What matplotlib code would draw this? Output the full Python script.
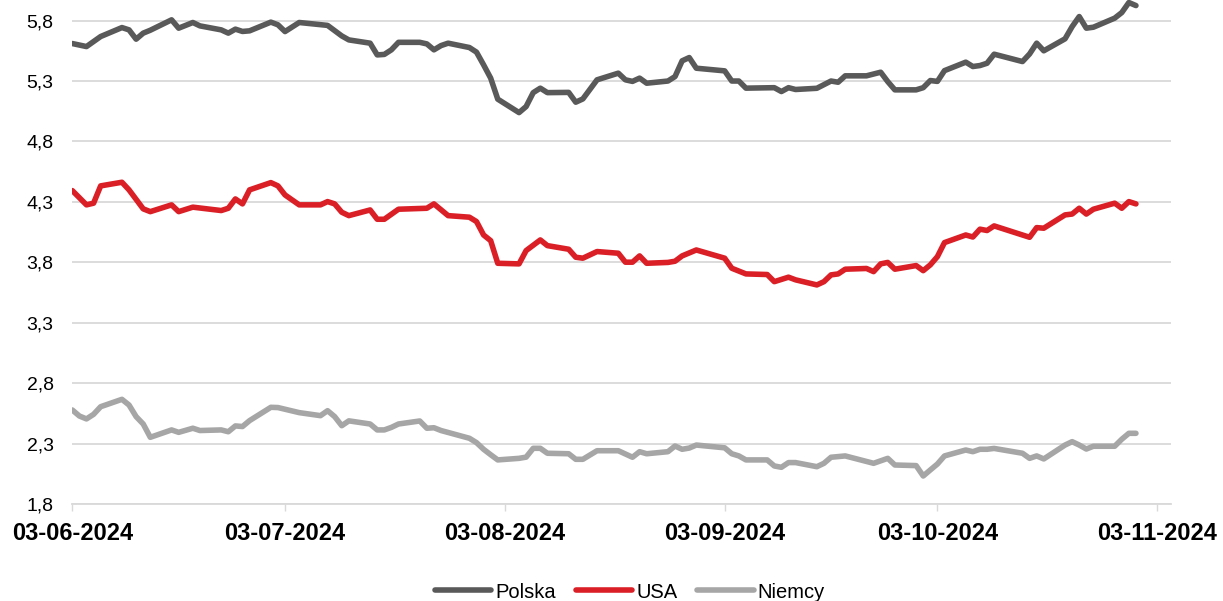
import matplotlib
matplotlib.use("Agg")
import matplotlib.pyplot as plt
import matplotlib.dates as mdates
import pandas as pd

plt.rcParams['font.family'] = ['Liberation Sans', 'DejaVu Sans']

polska_dates = ["2024-06-03","2024-06-05","2024-06-07","2024-06-10","2024-06-11","2024-06-12","2024-06-13","2024-06-14",
    "2024-06-17","2024-06-18","2024-06-20","2024-06-21","2024-06-24","2024-06-25","2024-06-26","2024-06-27","2024-06-28",
    "2024-07-01","2024-07-02","2024-07-03","2024-07-05","2024-07-09","2024-07-11","2024-07-12","2024-07-15","2024-07-16",
    "2024-07-17","2024-07-18","2024-07-19","2024-07-22","2024-07-23","2024-07-24","2024-07-25","2024-07-26","2024-07-29",
    "2024-07-30","2024-07-31","2024-08-01","2024-08-02","2024-08-05","2024-08-06","2024-08-07","2024-08-08","2024-08-09",
    "2024-08-12","2024-08-13","2024-08-14","2024-08-16","2024-08-19","2024-08-20","2024-08-21","2024-08-22","2024-08-23",
    "2024-08-26","2024-08-27","2024-08-28","2024-08-29","2024-08-30","2024-09-03","2024-09-04","2024-09-05","2024-09-06",
    "2024-09-10","2024-09-11","2024-09-12","2024-09-13","2024-09-16","2024-09-18","2024-09-19","2024-09-20","2024-09-23",
    "2024-09-25","2024-09-26","2024-09-27","2024-09-30","2024-10-01","2024-10-02","2024-10-03","2024-10-04","2024-10-07",
    "2024-10-08","2024-10-09","2024-10-10","2024-10-11","2024-10-15","2024-10-16","2024-10-17","2024-10-18","2024-10-21",
    "2024-10-22","2024-10-23","2024-10-24","2024-10-25","2024-10-28","2024-10-29","2024-10-30","2024-10-31"]
polska_vals = [5.61,5.585,5.668,5.742,5.723,5.646,5.696,5.72,
    5.806,5.737,5.784,5.756,5.723,5.696,5.729,5.71,5.715,
    5.787,5.765,5.709,5.784,5.76,5.673,5.64,5.613,5.516,
    5.52,5.558,5.62,5.62,5.607,5.558,5.593,5.613,5.577,
    5.539,5.434,5.324,5.15,5.039,5.089,5.204,5.241,5.204,
    5.206,5.125,5.152,5.31,5.365,5.31,5.297,5.324,5.282,
    5.30,5.337,5.467,5.494,5.406,5.384,5.30,5.30,5.241,
    5.245,5.213,5.245,5.23,5.24,5.30,5.29,5.343,5.343,
    5.373,5.295,5.227,5.227,5.245,5.304,5.297,5.386,5.456,
    5.42,5.428,5.447,5.522,5.461,5.524,5.613,5.55,5.649,
    5.75,5.833,5.737,5.745,5.82,5.866,5.949,5.924]

usa_dates = ["2024-06-03","2024-06-05","2024-06-06","2024-06-07","2024-06-10","2024-06-11","2024-06-13","2024-06-14",
    "2024-06-17","2024-06-18","2024-06-20","2024-06-24","2024-06-25","2024-06-26","2024-06-27","2024-06-28",
    "2024-07-01","2024-07-02","2024-07-03","2024-07-05","2024-07-08","2024-07-09","2024-07-10","2024-07-11","2024-07-12",
    "2024-07-15","2024-07-16","2024-07-17","2024-07-19","2024-07-23","2024-07-24","2024-07-26","2024-07-29","2024-07-30",
    "2024-07-31","2024-08-01","2024-08-02","2024-08-05","2024-08-06","2024-08-08","2024-08-09","2024-08-12","2024-08-13",
    "2024-08-14","2024-08-16","2024-08-19","2024-08-20","2024-08-21","2024-08-22","2024-08-23","2024-08-26","2024-08-27",
    "2024-08-28","2024-08-30","2024-09-03","2024-09-04","2024-09-06","2024-09-09","2024-09-10","2024-09-12","2024-09-13",
    "2024-09-16","2024-09-17","2024-09-18","2024-09-19","2024-09-20","2024-09-23","2024-09-24","2024-09-25","2024-09-26",
    "2024-09-27","2024-09-30","2024-10-01","2024-10-02","2024-10-03","2024-10-04","2024-10-07","2024-10-08","2024-10-09",
    "2024-10-10","2024-10-11","2024-10-16","2024-10-17","2024-10-18","2024-10-21","2024-10-22","2024-10-23","2024-10-24",
    "2024-10-25","2024-10-28","2024-10-29","2024-10-30","2024-10-31"]
usa_vals = [4.394,4.276,4.29,4.433,4.463,4.40,4.243,4.22,
    4.276,4.22,4.257,4.229,4.248,4.325,4.284,4.40,
    4.46,4.433,4.358,4.276,4.276,4.303,4.284,4.215,4.187,
    4.234,4.157,4.157,4.24,4.248,4.284,4.187,4.174,4.138,
    4.027,3.98,3.793,3.788,3.898,3.986,3.939,3.909,3.843,
    3.835,3.89,3.876,3.802,3.802,3.854,3.793,3.80,3.81,
    3.854,3.903,3.835,3.752,3.705,3.70,3.641,3.678,3.656,
    3.614,3.641,3.697,3.705,3.744,3.75,3.724,3.788,3.80,
    3.744,3.774,3.732,3.78,3.848,3.964,4.027,4.01,4.075,
    4.064,4.102,4.008,4.088,4.083,4.193,4.20,4.248,4.20,
    4.24,4.29,4.248,4.303,4.284]

niemcy_dates = ["2024-06-03","2024-06-04","2024-06-05","2024-06-06","2024-06-07","2024-06-10","2024-06-11","2024-06-12",
    "2024-06-13","2024-06-14","2024-06-17","2024-06-18","2024-06-20","2024-06-21","2024-06-24","2024-06-25","2024-06-26",
    "2024-06-27","2024-06-28","2024-07-01","2024-07-02","2024-07-05","2024-07-08","2024-07-09","2024-07-10","2024-07-11",
    "2024-07-12","2024-07-15","2024-07-16","2024-07-17","2024-07-18","2024-07-19","2024-07-22","2024-07-23","2024-07-24",
    "2024-07-25","2024-07-29","2024-07-30","2024-07-31","2024-08-01","2024-08-02","2024-08-05","2024-08-06","2024-08-07",
    "2024-08-08","2024-08-09","2024-08-12","2024-08-13","2024-08-14","2024-08-16","2024-08-19","2024-08-21","2024-08-22",
    "2024-08-23","2024-08-26","2024-08-27","2024-08-28","2024-08-29","2024-08-30","2024-09-03","2024-09-04","2024-09-05",
    "2024-09-06","2024-09-09","2024-09-10","2024-09-11","2024-09-12","2024-09-13","2024-09-16","2024-09-17","2024-09-18",
    "2024-09-20","2024-09-24","2024-09-26","2024-09-27","2024-09-30","2024-10-01","2024-10-02","2024-10-03","2024-10-04",
    "2024-10-07","2024-10-08","2024-10-09","2024-10-10","2024-10-11","2024-10-15","2024-10-16","2024-10-17","2024-10-18",
    "2024-10-21","2024-10-22","2024-10-23","2024-10-24","2024-10-25","2024-10-28","2024-10-29","2024-10-30","2024-10-31"]
niemcy_vals = [2.58,2.53,2.506,2.544,2.607,2.668,2.621,2.525,
    2.464,2.354,2.415,2.395,2.429,2.41,2.415,2.40,2.448,
    2.443,2.492,2.602,2.60,2.558,2.533,2.574,2.525,2.45,
    2.49,2.464,2.415,2.415,2.436,2.464,2.489,2.429,2.433,
    2.41,2.346,2.31,2.255,2.21,2.167,2.18,2.19,2.263,
    2.263,2.222,2.218,2.172,2.172,2.243,2.243,2.189,2.235,
    2.218,2.235,2.282,2.255,2.265,2.29,2.267,2.218,2.2,
    2.167,2.167,2.117,2.106,2.145,2.145,2.111,2.139,2.189,
    2.2,2.139,2.18,2.125,2.12,2.034,2.084,2.133,2.2,
    2.249,2.235,2.255,2.255,2.262,2.222,2.18,2.2,2.175,
    2.29,2.318,2.29,2.257,2.28,2.28,2.338,2.387,2.387]

series_names = ["Polska", "USA", "Niemcy"]
series_colors = ["#595959", "#da1f26", "#a6a6a6"]

x_tick_dates = ["2024-06-03","2024-07-03","2024-08-03","2024-09-03","2024-10-03","2024-11-03"]
x_tick_labels = ["03-06-2024","03-07-2024","03-08-2024","03-09-2024","03-10-2024","03-11-2024"]
y_ticks = [1.8, 2.3, 2.8, 3.3, 3.8, 4.3, 4.8, 5.3, 5.8]
y_tick_labels = ["1,8","2,3","2,8","3,3","3,8","4,3","4,8","5,3","5,8"]

fig = plt.figure(figsize=(12.23, 6.01), dpi=100)
ax = fig.add_axes([72.3/1223, 96.7/601, (1170.7-72.3)/1223, 504.3/601])

for name, color, d, v in zip(series_names, series_colors,
                             [polska_dates, usa_dates, niemcy_dates],
                             [polska_vals, usa_vals, niemcy_vals]):
    ax.plot(pd.to_datetime(d), v, color=color, lw=4.0, label=name,
            solid_joinstyle='round', solid_capstyle='round', zorder=3)

x0 = mdates.date2num(pd.Timestamp("2024-06-03"))
ax.set_xlim(x0, x0 + 154.9)
ax.set_ylim(1.8, 5.97)

ax.set_yticks(y_ticks)
ax.set_yticklabels(y_tick_labels, fontsize=14)
ax.set_xticks(pd.to_datetime(x_tick_dates))
ax.set_xticklabels(x_tick_labels, fontsize=17, fontweight='bold')

ax.grid(axis='y', color='#d9d9d9', lw=1.3, zorder=0)
ax.tick_params(axis='y', length=0, pad=13.5)
ax.tick_params(axis='x', length=5, width=1, color='#d9d9d9', pad=8)
for s in ['top', 'right', 'left']:
    ax.spines[s].set_visible(False)
ax.spines['bottom'].set_color('#d9d9d9')
ax.spines['bottom'].set_linewidth(1.3)

fig.legend(loc='center', bbox_to_anchor=(0.515, 1 - 592/601), ncol=3, frameon=False,
           fontsize=14.5, handlelength=2.8, handletextpad=0.2, columnspacing=1.0)

fig.savefig("out.png", dpi=100)
